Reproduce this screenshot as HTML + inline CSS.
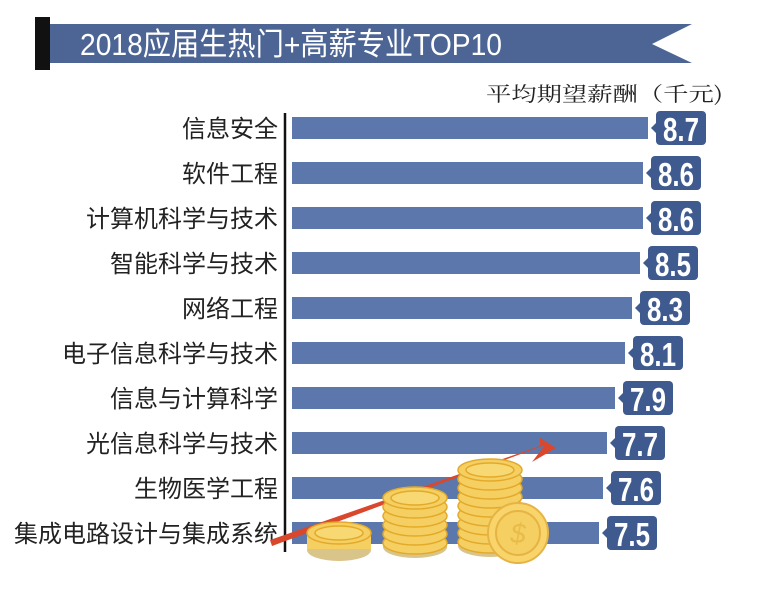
<!DOCTYPE html>
<html><head><meta charset="utf-8"><style>
body{margin:0;background:#fff;}
svg text{font-family:"Liberation Sans","Noto Sans CJK SC",sans-serif;}
</style></head><body>
<svg width="760" height="588" viewBox="0 0 760 588" xmlns="http://www.w3.org/2000/svg">
<rect x="35" y="17" width="15" height="53" fill="#111"/>
<polygon points="50,24 692,24 652,44 692,63 50,63" fill="#4c6595"/>
<text x="80" y="55" font-size="31" fill="#fff" textLength="422" lengthAdjust="spacingAndGlyphs">2018应届生热门+高薪专业TOP10</text>
<text x="723" y="101" font-size="20" fill="#222" text-anchor="end" style="font-family:'Noto Serif CJK SC',serif" textLength="237" lengthAdjust="spacingAndGlyphs">平均期望薪酬（千元)</text>
<line x1="285" y1="113" x2="285" y2="552" stroke="#111" stroke-width="2.5"/>
<g id="bars"></g>
<polygon points="272,546 545,445 532,462 556,448 540,438 540,446 270,540" fill="#d9472d"/>
<g fill="#f5cf62" stroke="#e3aa2a" stroke-width="1.5">
<ellipse cx="339" cy="550" rx="32" ry="11" fill="#d9c48a" stroke="none"/>
<rect x="307" y="533" width="64" height="16" fill="#f5cf62" stroke="none"/>
<ellipse cx="339" cy="533" rx="32" ry="11"/>
<ellipse cx="339" cy="533" rx="24" ry="7" fill="#f8d873"/>
</g>
<g id="stack2"></g><g id="stack3"></g>
<g stroke="#e6b445" stroke-width="2">
<circle cx="518" cy="533" r="30" fill="#f8d46a"/>
<circle cx="518" cy="533" r="22" fill="#f5cf62"/>
<text x="518" y="543" font-size="28" fill="#e9bc4a" stroke="none" text-anchor="middle" font-style="italic">$</text>
</g>
</svg>
<script>
var d=[["信息安全",8.7,648],["软件工程",8.6,643],["计算机科学与技术",8.6,643],["智能科学与技术",8.5,640],["网络工程",8.3,632],["电子信息科学与技术",8.1,625],["信息与计算科学",7.9,615],["光信息科学与技术",7.7,607],["生物医学工程",7.6,603],["集成电路设计与集成系统",7.5,599]];
var s="";
d.forEach(function(r,i){var c=128+i*45;
s+='<rect x="292" y="'+(c-11)+'" width="'+(r[2]-292)+'" height="22" fill="#5b77ab"/>';
s+='<text x="278" y="'+(c+9)+'" font-size="24" fill="#222" text-anchor="end">'+r[0]+'</text>';
var bx=r[2]+8;
s+='<rect x="'+bx+'" y="'+(c-17)+'" width="50" height="34" rx="4" fill="#3f5a8e"/>';
s+='<polygon points="'+(bx+1)+','+(c-6)+' '+(bx-5)+','+c+' '+(bx+1)+','+(c+6)+'" fill="#3f5a8e"/>';
s+='<text x="'+(bx+25)+'" y="'+(c+13)+'" font-size="33" font-weight="bold" fill="#fff" text-anchor="middle" textLength="36" lengthAdjust="spacingAndGlyphs">'+r[1].toFixed(1)+'</text>';});
document.getElementById("bars").innerHTML=s;
function stack(cx,top,n,id){var t='<g fill="#f5cf62" stroke="#e3aa2a" stroke-width="1.5">';
var bot=top+n*9;t+='<ellipse cx="'+cx+'" cy="'+(bot+4)+'" rx="32" ry="11" fill="#d9c48a" stroke="none"/>';
for(var k=n;k>=0;k--){var y=top+k*9;t+='<ellipse cx="'+cx+'" cy="'+y+'" rx="32" ry="11"/>';}
t+='<ellipse cx="'+cx+'" cy="'+top+'" rx="24" ry="7" fill="#f8d873"/></g>';document.getElementById(id).innerHTML=t;}
stack(415,498,5,"stack2");stack(490,470,8,"stack3");
</script>
</body></html>
